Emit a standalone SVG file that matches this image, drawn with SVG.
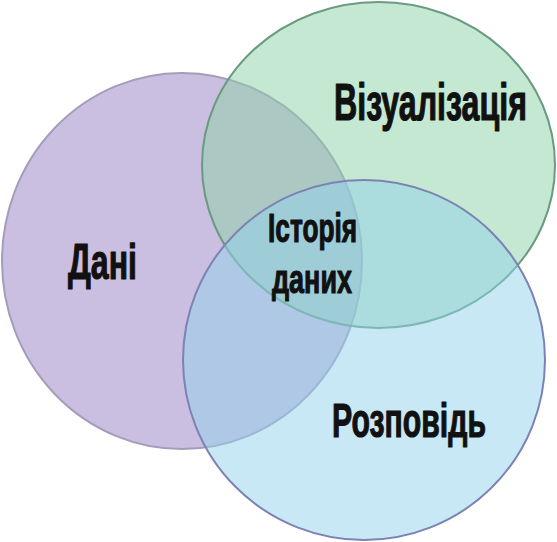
<svg xmlns="http://www.w3.org/2000/svg" width="557" height="542" viewBox="0 0 557 542">
<style>
.lbl{font-family:"Liberation Sans","DejaVu Sans",sans-serif;font-weight:bold;fill:#111111;stroke:#111111;stroke-width:1.2;stroke-linejoin:round}
</style>
<rect width="557" height="542" fill="#ffffff"/>
<g id="dani">
<ellipse cx="182" cy="261" rx="180" ry="188" fill="#cabfe1" stroke="#a69cba" stroke-width="2"/>
</g>
<g id="vizualizatsiia">
<ellipse cx="378.5" cy="165" rx="176.5" ry="163" fill="#8bd1a5" fill-opacity="0.5" stroke="#6a9a80" stroke-width="2"/>
</g>
<g id="rozpovid">
<ellipse cx="364" cy="360" rx="181" ry="180" fill="#91d1eb" fill-opacity="0.5" stroke="#7d82b4" stroke-width="2"/>
</g>
<g id="labels">
<text class="lbl" transform="translate(68,279) scale(0.63,1)" x="0" y="0" font-size="50" textLength="109.5" lengthAdjust="spacingAndGlyphs">Дані</text>
<text class="lbl" transform="translate(334,120) scale(0.63,1)" x="0" y="0" font-size="52" textLength="306.3" lengthAdjust="spacingAndGlyphs">Візуалізація</text>
<text class="lbl" transform="translate(332,437) scale(0.63,1)" x="0" y="0" font-size="49" textLength="244.4" lengthAdjust="spacingAndGlyphs">Розповідь</text>
<text class="lbl" transform="translate(268,242) scale(0.63,1)" x="0" y="0" font-size="41" textLength="141.3" lengthAdjust="spacingAndGlyphs">Історія</text>
<text class="lbl" transform="translate(272,293) scale(0.63,1)" x="0" y="0" font-size="41" textLength="127" lengthAdjust="spacingAndGlyphs">даних</text>
</g>
</svg>
